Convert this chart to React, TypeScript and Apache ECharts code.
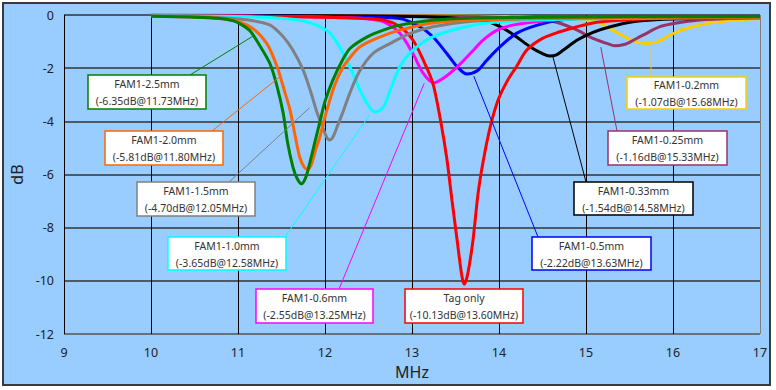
import React, { useEffect, useRef } from "react";
import * as echarts from "echarts";

type Pt = [number, number];

const xMin = 9;
const xMax = 17;
const yMin = -12;
const yMax = 0;

const fam25: Pt[] = [[10.0,-0.05],[10.5,-0.08],[10.8,-0.13],[10.95,-0.22],[11.05,-0.38],[11.14,-0.6],[11.25,-1.15],[11.37,-1.85],[11.45,-2.7],[11.52,-3.7],[11.57,-4.8],[11.63,-5.7],[11.68,-6.15],[11.73,-6.35],[11.78,-6.1],[11.83,-5.5],[11.89,-4.7],[11.95,-3.9],[12.0,-3.25],[12.09,-2.45],[12.2,-1.7],[12.29,-1.25],[12.48,-0.83],[12.67,-0.57],[12.86,-0.38],[13.24,-0.2],[13.63,-0.12],[14.5,-0.08],[15.5,-0.07],[17.0,-0.07]];
const fam20: Pt[] = [[10.0,-0.05],[10.5,-0.08],[10.9,-0.18],[11.14,-0.44],[11.33,-1.07],[11.45,-1.95],[11.52,-2.7],[11.6,-3.6],[11.66,-4.6],[11.71,-5.35],[11.76,-5.72],[11.8,-5.81],[11.84,-5.65],[11.89,-5.1],[11.94,-4.6],[12.02,-3.6],[12.11,-2.65],[12.21,-1.95],[12.3,-1.55],[12.4,-1.2],[12.6,-0.87],[12.86,-0.57],[13.24,-0.3],[13.8,-0.17],[15.0,-0.12],[17.0,-0.1]];
const fam15: Pt[] = [[10.0,-0.04],[10.5,-0.06],[10.9,-0.12],[11.14,-0.2],[11.37,-0.38],[11.52,-0.82],[11.63,-1.32],[11.75,-2.08],[11.83,-2.83],[11.9,-3.58],[11.97,-4.2],[12.02,-4.6],[12.05,-4.7],[12.09,-4.6],[12.14,-4.2],[12.2,-3.7],[12.29,-2.9],[12.4,-2.1],[12.55,-1.45],[12.75,-1.07],[12.98,-0.69],[13.24,-0.44],[13.63,-0.25],[14.2,-0.15],[15.0,-0.1],[17.0,-0.08]];
const fam10: Pt[] = [[10.0,-0.03],[10.8,-0.05],[11.14,-0.07],[11.5,-0.12],[11.71,-0.2],[11.9,-0.38],[12.06,-0.69],[12.21,-1.45],[12.32,-2.2],[12.42,-2.95],[12.52,-3.5],[12.58,-3.65],[12.67,-3.47],[12.75,-2.83],[12.86,-1.95],[13.01,-1.32],[13.24,-0.82],[13.55,-0.5],[13.86,-0.3],[14.5,-0.18],[15.5,-0.12],[17.0,-0.1]];
const fam06: Pt[] = [[10.0,-0.02],[11.0,-0.04],[11.8,-0.07],[12.2,-0.1],[12.48,-0.14],[12.67,-0.25],[12.86,-0.69],[13.01,-1.45],[13.13,-2.2],[13.25,-2.55],[13.36,-2.38],[13.52,-1.95],[13.67,-1.45],[13.82,-0.94],[13.98,-0.57],[14.16,-0.38],[14.5,-0.23],[14.9,-0.14],[15.5,-0.1],[17.0,-0.08]];
const fam05: Pt[] = [[10.0,-0.02],[11.0,-0.03],[12.0,-0.06],[12.5,-0.08],[12.86,-0.13],[13.09,-0.44],[13.24,-0.82],[13.4,-1.45],[13.52,-1.95],[13.63,-2.22],[13.75,-2.1],[13.86,-1.7],[14.01,-1.2],[14.2,-0.69],[14.44,-0.38],[14.7,-0.19],[15.08,-0.1],[16.0,-0.07],[17.0,-0.06]];
const tagOnly: Pt[] = [[10.0,-0.02],[11.0,-0.04],[12.0,-0.08],[12.4,-0.12],[12.67,-0.19],[12.86,-0.44],[13.01,-0.94],[13.13,-1.7],[13.24,-2.57],[13.33,-4.0],[13.4,-5.4],[13.46,-6.98],[13.52,-8.5],[13.57,-9.75],[13.6,-10.13],[13.64,-9.75],[13.7,-8.5],[13.76,-6.7],[13.82,-5.47],[13.9,-4.2],[13.99,-3.2],[14.1,-2.45],[14.2,-1.95],[14.32,-1.32],[14.5,-0.88],[14.7,-0.63],[14.9,-0.44],[15.08,-0.3],[15.31,-0.22],[15.66,-0.15],[16.2,-0.1],[17.0,-0.08]];
const fam033: Pt[] = [[10.0,-0.01],[12.0,-0.03],[13.0,-0.06],[13.5,-0.12],[13.86,-0.25],[14.05,-0.5],[14.2,-0.82],[14.36,-1.2],[14.5,-1.45],[14.58,-1.54],[14.66,-1.5],[14.74,-1.32],[14.9,-0.94],[15.08,-0.65],[15.28,-0.44],[15.54,-0.25],[15.85,-0.17],[16.5,-0.12],[17.0,-0.1]];
const fam025: Pt[] = [[10.0,-0.01],[13.0,-0.04],[14.0,-0.08],[14.47,-0.15],[14.7,-0.31],[14.9,-0.57],[15.08,-0.88],[15.24,-1.07],[15.33,-1.16],[15.45,-1.1],[15.51,-1.01],[15.66,-0.75],[15.85,-0.44],[16.04,-0.3],[16.31,-0.19],[16.7,-0.12],[17.0,-0.1]];
const fam02: Pt[] = [[10.0,-0.01],[13.0,-0.03],[14.0,-0.06],[14.6,-0.12],[15.01,-0.2],[15.16,-0.3],[15.24,-0.44],[15.31,-0.57],[15.47,-0.86],[15.6,-1.03],[15.68,-1.07],[15.82,-1.01],[15.97,-0.75],[16.16,-0.5],[16.43,-0.3],[16.8,-0.17],[17.0,-0.13]];

const seriesNames = ["FAM1-0.2mm","FAM1-0.25mm","FAM1-0.33mm","FAM1-0.5mm","FAM1-0.6mm","Tag only","FAM1-1.0mm","FAM1-1.5mm","FAM1-2.0mm","FAM1-2.5mm"];
const seriesData = [fam02, fam025, fam033, fam05, fam06, tagOnly, fam10, fam15, fam20, fam25];
const seriesColors = ["#FFCC00","#993366","#000000","#0000FF","#FF00FF","#FF0000","#00FFFF","#808080","#FF6600","#008000"];

// Annotation texts
const labelTitles = ["FAM1-2.5mm","FAM1-2.0mm","FAM1-1.5mm","FAM1-1.0mm","FAM1-0.6mm","Tag only","FAM1-0.5mm","FAM1-0.33mm","FAM1-0.25mm","FAM1-0.2mm"];
const labelValues = ["(-6.35dB@11.73MHz)","(-5.81dB@11.80MHz)","(-4.70dB@12.05MHz)","(-3.65dB@12.58MHz)","(-2.55dB@13.25MHz)","(-10.13dB@13.60MHz)","(-2.22dB@13.63MHz)","(-1.54dB@14.58MHz)","(-1.16dB@15.33MHz)","(-1.07dB@15.68MHz)"];
const labelColors = ["#008000","#FF6600","#808080","#00FFFF","#FF00FF","#FF0000","#0000FF","#000000","#993366","#FFCC00"];

// Layout for annotation boxes (pixels) and leader anchors
const boxLayout = [
  { x: 88, y: 75, w: 118, h: 34, lx: 190, ly: 75, tx: 11.17, ty: -0.8 },
  { x: 105, y: 131, w: 118, h: 34, lx: 212, ly: 131, tx: 11.49, ty: -2.3 },
  { x: 137, y: 182, w: 118, h: 34, lx: 229, ly: 182, tx: 11.82, ty: -3.5 },
  { x: 168, y: 237, w: 118, h: 33, lx: 285, ly: 237, tx: 12.51, ty: -3.77 },
  { x: 256, y: 289, w: 117, h: 34, lx: 339, ly: 289, tx: 13.14, ty: -2.57 },
  { x: 405, y: 289, w: 118, h: 34, lx: null, ly: null, tx: null, ty: null },
  { x: 532, y: 237, w: 119, h: 33, lx: 538, ly: 237, tx: 13.71, ty: -2.3 },
  { x: 574, y: 182, w: 119, h: 33, lx: 586, ly: 182, tx: 14.62, ty: -1.58 },
  { x: 608, y: 131, w: 119, h: 34, lx: 617, ly: 131, tx: 15.17, ty: -1.21 },
  { x: 627, y: 77, w: 119, h: 32, lx: 651, ly: 77, tx: 15.75, ty: -1.21 },
];

const FONT = "Noto Sans";

export default function App() {
  const ref = useRef<HTMLDivElement>(null);
  useEffect(() => {
    if (!ref.current) return;
    document.body.style.margin = "0";
    const chart = echarts.init(ref.current, undefined, { renderer: "svg" });
    chart.setOption({
      animation: false,
      backgroundColor: "#ffffff",
      grid: { left: 64, top: 15, right: 16, bottom: 56, show: false },
      xAxis: {
        type: "value",
        min: xMin,
        max: xMax,
        interval: 1,
        name: "MHz",
        nameLocation: "middle",
        nameGap: 27,
        nameTextStyle: { fontSize: 16, color: "#222", fontFamily: FONT },
        axisLine: { show: false },
        axisTick: { show: false },
        axisLabel: { fontSize: 12.5, color: "#222", fontFamily: FONT, margin: 12 },
        splitLine: {
          show: true,
          lineStyle: { color: ["#000","#000","#000","#000","#000","#000","#000","#000","#808080"], width: 1 },
        },
      },
      yAxis: {
        type: "value",
        min: yMin,
        max: yMax,
        interval: 2,
        name: "dB",
        nameLocation: "middle",
        nameGap: 33,
        nameTextStyle: { fontSize: 16, color: "#222", fontFamily: FONT },
        axisLine: { show: false },
        axisTick: { show: false },
        axisLabel: { fontSize: 12.5, color: "#222", fontFamily: FONT, margin: 10 },
        splitLine: {
          show: true,
          lineStyle: { color: ["#555","#333","#333","#333","#333","#333","#333"], width: 1.5 },
        },
      },
      series: seriesData.map((d, i) => ({
        name: seriesNames[i],
        type: "line",
        data: d,
        showSymbol: false,
        symbol: "none",
        smooth: 0.3,
        lineStyle: { width: 3, color: seriesColors[i] },
        itemStyle: { color: seriesColors[i] },
        z: 3 + i,
      })),
    });

    const elements: any[] = [
      {
        type: "rect",
        z: -100,
        silent: true,
        shape: { x: 3, y: 3, width: 767, height: 382 },
        style: { fill: "#99CCFF", stroke: "#3a3a3a", lineWidth: 2 },
      },
    ];
    boxLayout.forEach((b, i) => {
      if (b.lx !== null && b.tx !== null) {
        const p = chart.convertToPixel({ gridIndex: 0 }, [b.tx, b.ty as number]) as number[];
        elements.push({
          type: "line",
          z: 50,
          silent: true,
          shape: { x1: b.lx, y1: b.ly, x2: p[0], y2: p[1] },
          style: { stroke: labelColors[i], lineWidth: 1 },
        });
      }
      elements.push({
        type: "rect",
        z: 60,
        silent: true,
        shape: { x: b.x, y: b.y, width: b.w, height: b.h },
        style: { fill: "#ffffff", stroke: labelColors[i], lineWidth: 1.5 },
      });
      elements.push({
        type: "text",
        z: 61,
        silent: true,
        x: b.x + b.w / 2,
        y: b.y + b.h / 2 + 0.5,
        style: {
          text: labelTitles[i] + "\n" + labelValues[i],
          align: "center",
          verticalAlign: "middle",
          fontSize: 10.5,
          lineHeight: 17,
          fontFamily: FONT,
          fill: "#333333",
        },
      });
    });
    chart.setOption({ graphic: { elements } });

    return () => chart.dispose();
  }, []);
  return (
    <div
      ref={ref}
      style={{ position: "fixed", left: 0, top: 0, width: 776, height: 390 }}
    />
  );
}
